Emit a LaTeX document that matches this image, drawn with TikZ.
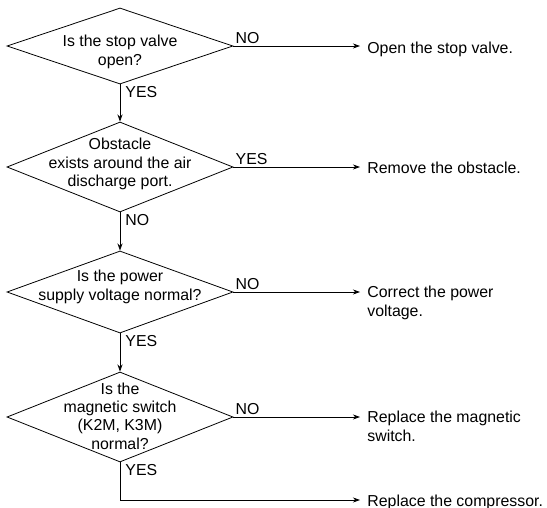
\documentclass[tikz,border=0pt]{standalone}
\usepackage{fontspec}
\setmainfont{Liberation Sans}
\usetikzlibrary{arrows.meta, positioning, shapes.geometric}

\tikzset{
  decision/.style={diamond, draw, inner sep=0pt, minimum width=142.4pt},
  qtext/.style={align=center, inner sep=0pt, font=\fontsize{10}{11.5}\selectfont},
  action/.style={anchor=north west, yshift=3.7pt, align=left, inner sep=0pt,
    font=\fontsize{10}{12}\selectfont},
  answer/.style={inner sep=1.2pt, font=\fontsize{10}{12}\selectfont},
  flow/.style={-{Stealth[length=4.5pt, width=3.2pt]}},
  toaction/.style={flow, shorten >=4.4pt},
}

\begin{document}
\begin{tikzpicture}[x=0.63pt, y=-0.63pt, line width=0.5pt]
    \useasboundingbox (0,0) rectangle (547,508);

    % Draw the decisions
    \node[decision, minimum height=47.9pt] (q1) at (120,46) {};
    \node[decision, minimum height=56.7pt] (q2) at (120,167) {};
    \node[decision, minimum height=51.7pt] (q3) at (120,292) {};
    \node[decision, minimum height=56.7pt] (q4) at (120,417) {};

    % Put the questions in
    \node[qtext] (t1) at (120,52) {Is the stop valve\\open?};
    \node[qtext] (t2) at (120,164) {Obstacle\\exists around the air\\discharge port.};
    \node[qtext] (t3) at (120,287) {Is the power\\supply voltage normal?};
    \node[qtext] (t4) at (120,416) {Is the\\magnetic switch\\(K2M, K3M)\\normal?};

    % Draw the actions
    \node[action] (a1) at (367,47) {Open the stop valve.};
    \node[action] (a2) at (367,167) {Remove the obstacle.};
    \node[action] (a3) at (367,291) {Correct the power\\voltage.};
    \node[action] (a4) at (367,416) {Replace the magnetic\\switch.};
    \node[action] (a5) at (367,500) {Replace the compressor.};

    % Draw the answers
    \node[answer, anchor=south west] (n1) at (q1.east) {NO};
    \node[answer, anchor=north west, xshift=2pt] (y1) at (q1.south) {YES};
    \node[answer, anchor=south west] (y2) at (q2.east) {YES};
    \node[answer, anchor=north west, xshift=2pt] (n2) at (q2.south) {NO};
    \node[answer, anchor=south west] (n3) at (q3.east) {NO};
    \node[answer, anchor=north west, xshift=2pt] (y3) at (q3.south) {YES};
    \node[answer, anchor=south west] (n4) at (q4.east) {NO};
    \node[answer, anchor=north west, xshift=2pt] (y4) at (q4.south) {YES};

    % Draw the arrows
    \draw[flow] (q1.south) -- (q2.north);
    \draw[flow] (q2.south) -- (q3.north);
    \draw[flow] (q3.south) -- (q4.north);
    \draw[toaction] (q1.east) -- (q1.east -| a1.west);
    \draw[toaction] (q2.east) -- (q2.east -| a2.west);
    \draw[toaction] (q3.east) -- (q3.east -| a3.west);
    \draw[toaction] (q4.east) -- (q4.east -| a4.west);
    \draw[toaction] (q4.south) |- ([yshift=-3.7pt]a5.north west);
\end{tikzpicture}
\end{document}
